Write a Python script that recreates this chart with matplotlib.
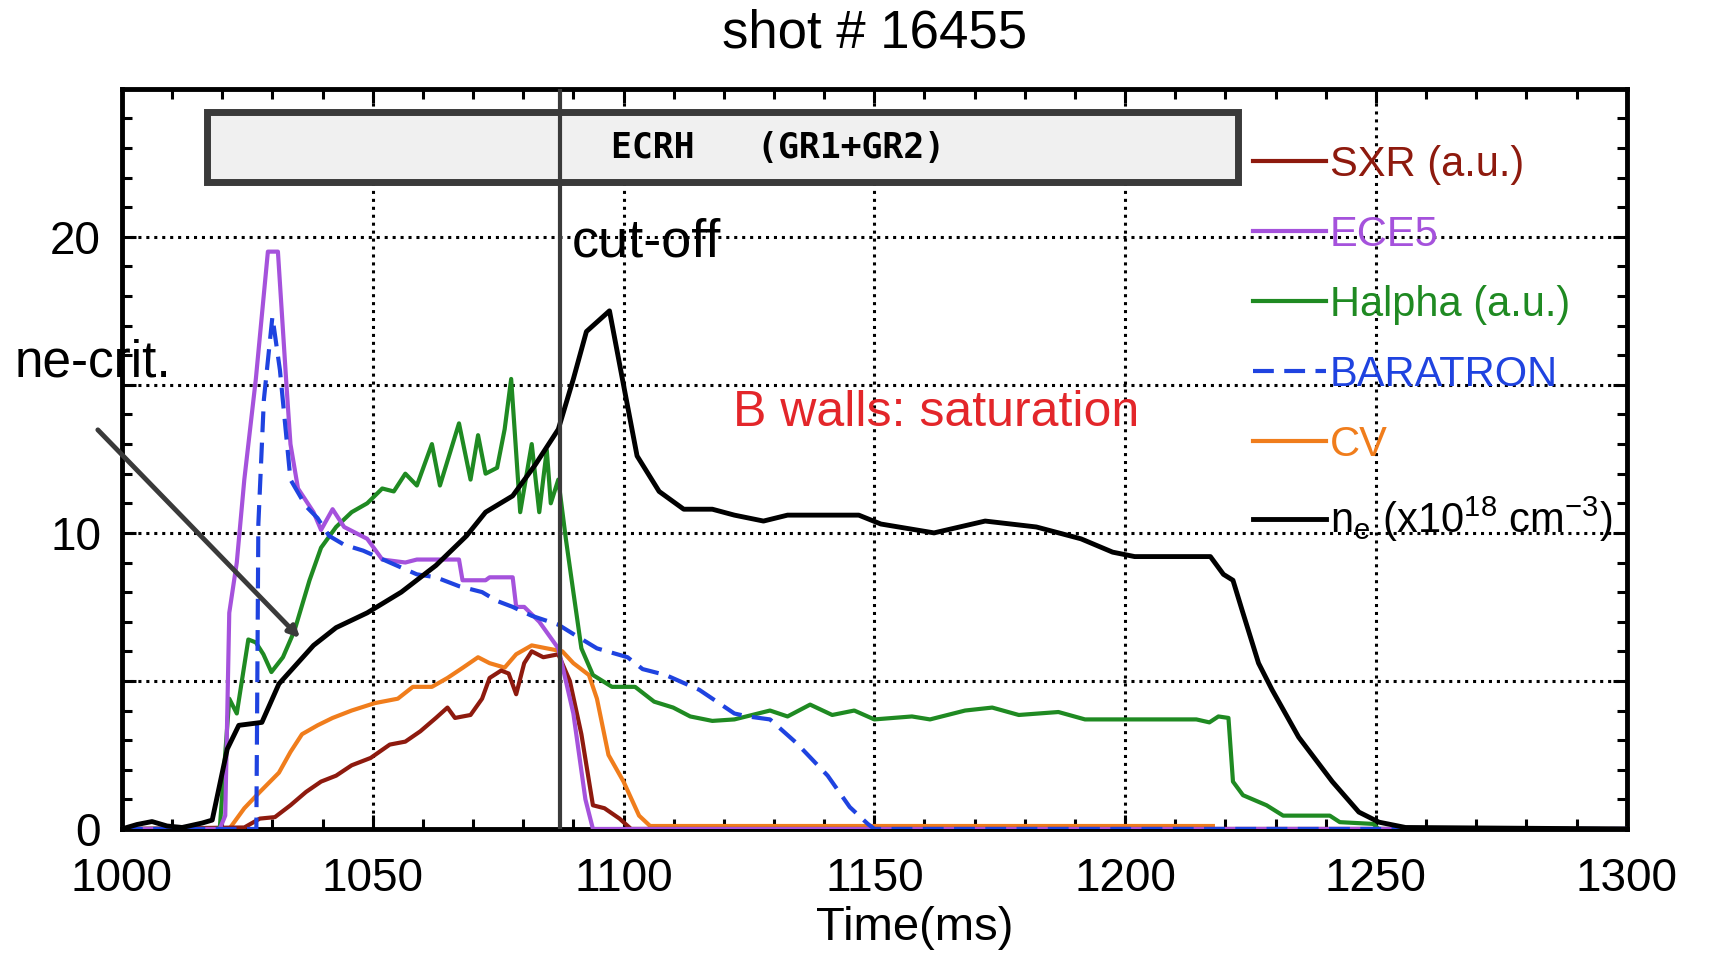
import matplotlib
matplotlib.use('Agg')
import matplotlib.pyplot as plt
from matplotlib.patches import Rectangle
from matplotlib.ticker import MultipleLocator

plt.rcParams['font.family'] = ['Liberation Sans', 'DejaVu Sans']
plt.rcParams['mathtext.fontset'] = 'custom'
plt.rcParams['mathtext.rm'] = 'Liberation Sans'
plt.rcParams['mathtext.it'] = 'Liberation Sans'

sxr_t = [1000, 1024.4, 1027.5, 1030.5, 1033.6, 1036.7, 1039.7, 1042.7, 1045.8, 1049.6,
         1053.4, 1056.5, 1059.5, 1062.6, 1064.9, 1066.4, 1069.5, 1071.8, 1073.3, 1075.6,
         1077.1, 1078.6, 1080.2, 1081.7, 1084.0, 1087.0, 1089.3, 1091.6, 1093.9, 1096.2,
         1099.2, 1101.5, 1300]
sxr_v = [0, 0.05, 0.35, 0.4, 0.8, 1.25, 1.6, 1.8, 2.15, 2.4,
         2.85, 2.95, 3.3, 3.75, 4.1, 3.75, 3.85, 4.4, 5.1, 5.35,
         5.25, 4.55, 5.6, 6.0, 5.8, 5.9, 5.0, 3.2, 0.8, 0.7,
         0.35, 0, 0]

ece_t = [1000, 1019.5, 1020.6, 1021.4, 1022.9, 1024.4, 1026.7, 1029.1, 1031.1, 1032.8,
         1033.6, 1035.1, 1038.2, 1039.7, 1042.0, 1044.3, 1048.9, 1051.9, 1056.5, 1058.8,
         1067.2, 1067.9, 1072.5, 1073.3, 1077.9, 1078.6, 1080.2, 1083.2, 1087.0, 1090.0,
         1092.4, 1093.9, 1300]
ece_v = [0, 0, 0.45, 7.3, 9.0, 11.8, 15.2, 19.5, 19.5, 15.0,
         13.0, 11.5, 10.7, 10.1, 10.8, 10.2, 9.8, 9.1, 9.0, 9.1,
         9.1, 8.4, 8.4, 8.5, 8.5, 7.5, 7.5, 7.0, 6.1, 3.9,
         1.0, 0, 0]

bar_t = [1000, 1026.8, 1027.2, 1028.3, 1030.0, 1031.5, 1033.6, 1036.7, 1039.0, 1041.3,
         1044.3, 1048.1, 1053.4, 1058.8, 1062.6, 1067.2, 1071.8, 1074.8, 1077.9, 1081.7,
         1087.0, 1090.8, 1094.7, 1100.8, 1103.8, 1108.4, 1115.1, 1122.1, 1124.8, 1129.2,
         1134.5, 1140.7, 1145.1, 1148.7, 1150.0, 1300]
bar_v = [0, 0, 10.3, 14.5, 17.3, 15.5, 11.8, 10.9, 10.5, 9.9,
         9.6, 9.4, 9.0, 8.6, 8.5, 8.2, 8.0, 7.7, 7.5, 7.2,
         6.9, 6.5, 6.1, 5.8, 5.4, 5.2, 4.7, 3.9, 3.8, 3.7,
         2.9, 1.8, 0.74, 0.17, 0, 0]

ha_t = [1000, 1019.5, 1021.4, 1022.9, 1025.2, 1026.7, 1028.2, 1029.8, 1032.1, 1034.4,
        1037.4, 1039.7, 1042.7, 1045.8, 1048.9, 1051.9, 1054.2, 1056.5, 1058.8, 1061.8,
        1063.4, 1067.2, 1069.5, 1071.0, 1072.5, 1074.8, 1076.3, 1077.6, 1079.4, 1081.7,
        1083.2, 1084.7, 1085.5, 1087.0, 1088.5, 1090.0, 1091.6, 1093.9, 1097.7, 1102.3,
        1106.1, 1109.9, 1113.3, 1117.7, 1122.1, 1129.2, 1132.7, 1137.2, 1141.6, 1146.0,
        1150.0, 1157.5, 1161.1, 1168.1, 1173.5, 1178.8, 1186.7, 1192.0, 1214.2, 1216.8,
        1218.6, 1220.6, 1221.5, 1223.5, 1228.2, 1231.5, 1240.8, 1242.8, 1249.5, 1250.5, 1300]
ha_v = [0, 0, 4.4, 3.9, 6.4, 6.3, 5.9, 5.3, 5.8, 6.7,
        8.4, 9.5, 10.2, 10.7, 11.0, 11.5, 11.4, 12.0, 11.6, 13.0,
        11.6, 13.7, 11.8, 13.3, 12.0, 12.2, 13.5, 15.2, 10.7, 13.0,
        10.7, 12.8, 11.0, 11.8, 9.8, 8.0, 6.1, 5.2, 4.8, 4.8,
        4.3, 4.1, 3.8, 3.65, 3.7, 4.0, 3.8, 4.2, 3.85, 4.0,
        3.7, 3.8, 3.7, 4.0, 4.1, 3.85, 3.95, 3.7, 3.7, 3.6,
        3.8, 3.75, 1.6, 1.14, 0.8, 0.45, 0.45, 0.23, 0.17, 0, 0]

cv_t = [1021.4, 1024.4, 1027.5, 1031.3, 1033.6, 1035.9, 1039.0, 1042.0, 1045.8, 1050.4,
        1055.0, 1058.0, 1061.8, 1064.9, 1068.0, 1071.0, 1073.3, 1076.3, 1078.6, 1081.7,
        1084.7, 1087.8, 1090.0, 1093.1, 1094.7, 1097.0, 1100.0, 1103.1, 1105.3, 1217.5]
cv_v = [0, 0.7, 1.25, 1.9, 2.6, 3.2, 3.5, 3.75, 4.0, 4.25,
        4.4, 4.8, 4.8, 5.1, 5.45, 5.8, 5.6, 5.45, 5.9, 6.2,
        6.1, 6.0, 5.6, 5.2, 4.4, 2.5, 1.6, 0.45, 0.1, 0.1]

ne_t = [1000, 1003, 1006, 1009, 1012, 1016, 1018, 1021, 1023.3, 1027.9,
        1031.3, 1038.2, 1042.7, 1048.9, 1055.7, 1062.6, 1068.7, 1072.5, 1077.9, 1082.4,
        1087.0, 1090.0, 1092.6, 1097.2, 1100.0, 1102.7, 1107.1, 1112.0, 1117.7, 1122.1,
        1127.9, 1132.7, 1146.9, 1151.3, 1161.9, 1172.1, 1182.3, 1191.2, 1197.5, 1201.9,
        1217.0, 1219.6, 1221.5, 1223.3, 1226.6, 1229.3, 1234.6, 1241.3, 1246.6, 1250.6,
        1255.9, 1300]
ne_v = [0, 0.15, 0.25, 0.1, 0.05, 0.2, 0.3, 2.7, 3.5, 3.6,
        4.9, 6.2, 6.8, 7.3, 8.0, 8.9, 9.9, 10.7, 11.25, 12.3,
        13.5, 15.2, 16.8, 17.5, 15.0, 12.6, 11.4, 10.8, 10.8, 10.6,
        10.4, 10.6, 10.6, 10.3, 10.0, 10.4, 10.2, 9.8, 9.35, 9.2,
        9.2, 8.6, 8.4, 7.4, 5.6, 4.7, 3.1, 1.6, 0.57, 0.23,
        0.05, 0]

ecrh_on, ecrh_off = 1017.0, 1222.6
cutoff_t = 1087.3

fig = plt.figure(figsize=(17.1, 9.6), dpi=100)
ax = fig.add_axes([0.0713, 0.1365, 0.880, 0.771])

l_cv, = ax.plot(cv_t, cv_v, color='#f07d1c', lw=3, label='CV', zorder=3)
l_sxr, = ax.plot(sxr_t, sxr_v, color='#8e1a0e', lw=3, label='SXR (a.u.)', zorder=3)
l_ha, = ax.plot(ha_t, ha_v, color='#1f8a22', lw=3, label='Halpha (a.u.)', zorder=3)
l_ece, = ax.plot(ece_t, ece_v, color='#a552dc', lw=3, label='ECE5', zorder=3)
l_bar, = ax.plot(bar_t, bar_v, color='#1f43e0', lw=3, ls=(0, (5, 2.5)),
                 label='BARATRON', zorder=3)
l_ne, = ax.plot(ne_t, ne_v, color='black', lw=3.5,
                label=r'n$_\mathrm{e}$ (x10$^\mathrm{18}$ cm$^\mathrm{-3}$)', zorder=4)

# ECRH heating window
ax.add_patch(Rectangle((ecrh_on, 21.86), ecrh_off - ecrh_on, 2.34,
                       facecolor='#f0f0f0', edgecolor='#3a3a3a', lw=5, zorder=5))
ax.text((ecrh_on + ecrh_off) / 2 + 11, 23.0, 'ECRH   (GR1+GR2)', family='DejaVu Sans Mono',
        fontsize=25, fontweight='bold', ha='center', va='center', zorder=6)

ax.axvline(cutoff_t, color='#3a3a3a', lw=3, zorder=6)
ax.text(cutoff_t + 2.3, 19.33, 'cut-off', fontsize=39, va='baseline', ha='left', zorder=6)
ax.text(1121.8, 13.6, 'B walls: saturation', fontsize=36, color='#e3262a',
        va='baseline', ha='left', zorder=6)

ax.text(994.2, 15.27, 'ne-crit.', fontsize=37, ha='center', va='baseline',
        clip_on=False, zorder=6)
ax.annotate('', xy=(1035.5, 6.45), xytext=(995.2, 13.48),
            arrowprops=dict(arrowstyle='-|>', lw=3.5, color='#3a3a3a',
                            mutation_scale=16, shrinkA=0, shrinkB=0),
            annotation_clip=False, zorder=6)

ax.set_xlim(1000, 1300)
ax.set_ylim(0, 25)
ax.xaxis.set_major_locator(MultipleLocator(50))
ax.xaxis.set_minor_locator(MultipleLocator(10))
ax.set_yticks([0, 5, 10, 15, 20])
ax.set_yticklabels(['0', '', '10', '', '20'])
ax.yaxis.set_minor_locator(MultipleLocator(1))
ax.tick_params(which='both', direction='in', top=True, right=True, width=2.2,
               labelsize=33, pad=15)
ax.tick_params(axis='x', which='both', pad=20)
ax.tick_params(which='major', length=10)
ax.tick_params(which='minor', length=7)
for s in ax.spines.values():
    s.set_linewidth(3.5)

ax.grid(True, which='major', color='black', lw=2.2, ls=(0, (1, 1.6)), zorder=1)
ax.set_axisbelow(True)

ax.set_title('shot # 16455', fontsize=38, pad=30)
ax.set_xlabel('Time(ms)', fontsize=34, x=0.527, labelpad=4)

ax.legend(handles=[l_sxr, l_ece, l_ha, l_bar, l_cv, l_ne], loc='upper left',
          bbox_to_anchor=(0.7515, 0.924), frameon=False, fontsize=30,
          labelcolor='linecolor', handlelength=1.75, handletextpad=0.1,
          labelspacing=0.72, borderaxespad=0, borderpad=0)

fig.savefig('out.png', dpi=100)
